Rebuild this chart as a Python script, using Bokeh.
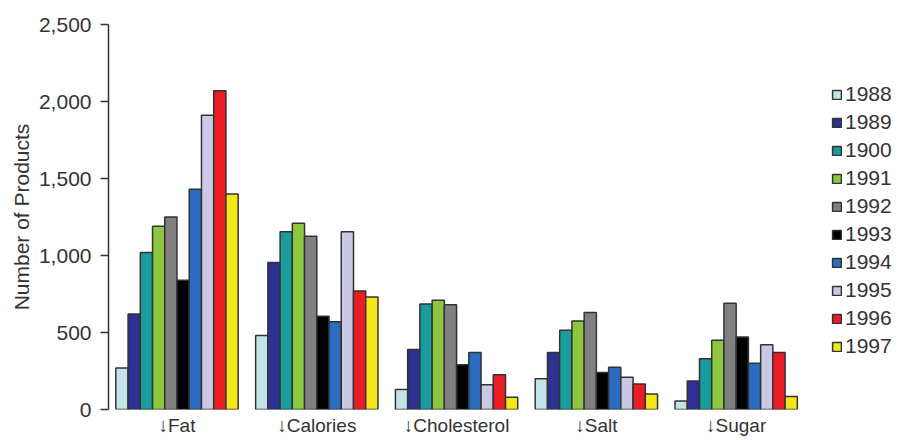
from bokeh.plotting import figure
from bokeh.models import (ColumnDataSource, Range1d, FixedTicker,
                          NumeralTickFormatter, Legend, LegendItem)
from bokeh.transform import dodge
from bokeh.embed import file_html
from bokeh.resources import INLINE

categories = ["↓Fat", "↓Calories", "↓Cholesterol", "↓Salt", "↓Sugar"]
years = ["1988", "1989", "1900", "1991", "1992", "1993", "1994", "1995", "1996", "1997"]

v1988 = [270, 480, 130, 200, 55]
v1989 = [620, 955, 390, 370, 185]
v1900 = [1020, 1155, 685, 515, 330]
v1991 = [1190, 1210, 710, 575, 450]
v1992 = [1250, 1125, 680, 630, 690]
v1993 = [840, 605, 290, 240, 470]
v1994 = [1430, 570, 370, 275, 300]
v1995 = [1910, 1155, 160, 210, 420]
v1996 = [2070, 770, 225, 165, 370]
v1997 = [1400, 730, 80, 100, 85]

y_ticks = [0, 500, 1000, 1500, 2000, 2500]

colors = ["#c2e4e8", "#2e3192", "#1a9c9c", "#8dc63f", "#808080",
          "#000000", "#2b6cc0", "#c9c9e6", "#ec1c24", "#f5e61a"]

series = [v1988, v1989, v1900, v1991, v1992, v1993, v1994, v1995, v1996, v1997]
cat_index = list(range(len(categories)))
data = {"xi": cat_index, "cat": categories}
for yr, vals in zip(years, series):
    data["y" + yr] = vals
source = ColumnDataSource(data)

FONT = "Liberation Sans"
TXT = "#333333"

p = figure(width=897, height=438, output_backend="svg", toolbar_location=None,
           x_range=Range1d(-0.49, 5.154),
           y_range=Range1d(0, 2500),
           min_border_left=108, min_border_right=0,
           min_border_top=24, min_border_bottom=29)
p.outline_line_color = None
p.xgrid.grid_line_color = None
p.ygrid.grid_line_color = None
p.background_fill_color = "white"
p.border_fill_color = "white"

bar_w = 0.0875
items = []
for i, (yr, col) in enumerate(zip(years, colors)):
    off = (i - 4.5) * bar_w
    r = p.vbar(x=dodge("xi", off), top="y" + yr, width=bar_w,
               bottom=0, source=source, fill_color=col, line_color="#333333",
               line_width=1.5)
    items.append(LegendItem(label=yr, renderers=[r]))

# y axis
ya = p.yaxis[0]
ya.ticker = FixedTicker(ticks=y_ticks)
ya.formatter = NumeralTickFormatter(format="0,0")
ya.minor_tick_line_color = None
ya.major_tick_out = 8
ya.major_tick_in = 0
ya.major_tick_line_color = "#333333"
ya.major_tick_line_width = 1.5
ya.axis_line_color = "#333333"
ya.axis_line_width = 1.5
ya.major_label_standoff = 9
ya.major_label_text_font = FONT
ya.major_label_text_font_size = "21px"
ya.major_label_text_color = TXT
ya.axis_label = "Number of Products"
ya.axis_label_text_font = FONT
ya.axis_label_text_font_size = "21px"
ya.axis_label_text_font_style = "normal"
ya.axis_label_text_color = TXT
ya.axis_label_standoff = 3

# x axis: category labels at the group positions
xa = p.xaxis[0]
xa.ticker = FixedTicker(ticks=cat_index)
xa.major_label_overrides = {i: c for i, c in zip(cat_index, categories)}
xa.axis_line_color = None
xa.major_tick_line_color = None
xa.minor_tick_line_color = None
xa.major_tick_out = 0
xa.major_tick_in = 0
xa.major_label_standoff = 5
xa.major_label_text_font = FONT
xa.major_label_text_font_size = "19px"
xa.major_label_text_color = TXT

lg = Legend(items=items, location=(723, 51))
lg.padding = 0
lg.margin = 0
lg.spacing = 4
lg.label_height = 20
lg.glyph_height = 11
lg.glyph_width = 11
lg.label_standoff = 3
lg.label_text_font = FONT
lg.label_text_font_size = "21px"
lg.label_text_color = TXT
lg.border_line_color = None
lg.background_fill_alpha = 0
p.add_layout(lg)

open("out.html", "w").write(file_html(p, INLINE))
